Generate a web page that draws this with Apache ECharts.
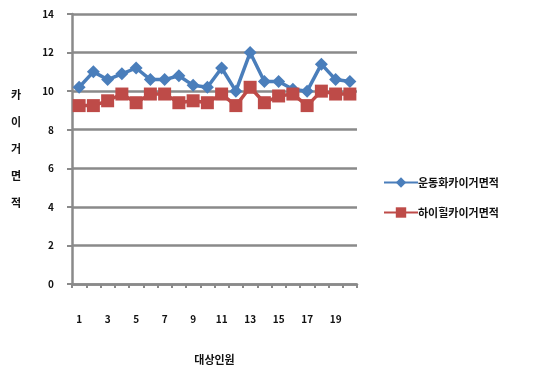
<!DOCTYPE html>
<html>
<head>
<meta charset="utf-8">
<script src="https://cdn.jsdelivr.net/npm/echarts@6/dist/echarts.min.js"></script>
<style>
  html, body { margin: 0; padding: 0; background: #fff; }
  #chart { width: 533px; height: 370px; }
</style>
</head>
<body>
<div id="chart"></div>
<script>
// Subjects 1..20
const categories = ['1','2','3','4','5','6','7','8','9','10','11','12','13','14','15','16','17','18','19','20'];
const sneakerArea = [10.2, 11.0, 10.6, 10.9, 11.2, 10.6, 10.6, 10.8, 10.3, 10.2, 11.2, 10.0, 12.0, 10.5, 10.5, 10.1, 10.0, 11.4, 10.6, 10.5];
const highHeelArea = [9.25, 9.25, 9.5, 9.85, 9.4, 9.85, 9.85, 9.4, 9.5, 9.4, 9.85, 9.25, 10.2, 9.4, 9.75, 9.85, 9.25, 10.0, 9.85, 9.85];
const seriesNames = ['운동화카이거면적', '하이힐카이거면적'];
const yTicks = { min: 0, max: 14, interval: 2 };

const FONT = '"Noto Sans CJK KR", "DejaVu Sans", sans-serif';
const AXIS_GRAY = '#8a8a8a';

const chart = echarts.init(document.getElementById('chart'), null, { renderer: 'canvas' });
chart.setOption({
  animation: false,
  backgroundColor: '#fff',
  textStyle: { fontFamily: FONT },
  grid: { left: 72, right: 176, top: 14, bottom: 83 },
  legend: {
    orient: 'vertical',
    left: 378,
    top: 172,
    itemWidth: 34,
    itemHeight: 13,
    itemGap: 19,
    textStyle: { fontFamily: FONT, fontSize: 11, fontWeight: 'bold', color: '#111', padding: [0, 0, 0, -5] },
    data: seriesNames
  },
  xAxis: {
    type: 'category',
    data: categories,
    boundaryGap: true,
    name: '대상인원',
    nameLocation: 'middle',
    nameGap: 70,
    nameTextStyle: { fontFamily: FONT, fontSize: 11, fontWeight: 'bold', color: '#111' },
    axisLine: { lineStyle: { color: AXIS_GRAY, width: 2.5 } },
    axisTick: { show: true, alignWithLabel: false, interval: 0, length: 4, lineStyle: { color: AXIS_GRAY, width: 2 } },
    axisLabel: { interval: 1, margin: 30, fontFamily: FONT, fontSize: 10, fontWeight: 'bold', color: '#111' },
    splitLine: { show: false }
  },
  yAxis: {
    type: 'value',
    min: yTicks.min,
    max: yTicks.max,
    interval: yTicks.interval,
    name: '카\n이\n거\n면\n적',
    nameLocation: 'middle',
    nameRotate: 0,
    nameGap: 51,
    nameTextStyle: { fontFamily: FONT, fontSize: 11, fontWeight: 'bold', color: '#111', lineHeight: 27 },
    axisLine: { show: true, lineStyle: { color: AXIS_GRAY, width: 2.5 } },
    axisTick: { show: true, length: 5, lineStyle: { color: AXIS_GRAY, width: 2 } },
    axisLabel: { margin: 18, fontFamily: FONT, fontSize: 10, fontWeight: 'bold', color: '#111' },
    splitLine: { show: true, lineStyle: { color: AXIS_GRAY, width: 2.5 } }
  },
  series: [
    {
      name: seriesNames[0],
      type: 'line',
      data: sneakerArea,
      symbol: 'diamond',
      symbolSize: 13,
      showAllSymbol: true,
      color: '#4a7ebb',
      lineStyle: { width: 3.5, color: '#4a7ebb' },
      itemStyle: { color: '#4a7ebb' },
      z: 3
    },
    {
      name: seriesNames[1],
      type: 'line',
      data: highHeelArea,
      symbol: 'rect',
      symbolSize: 13,
      showAllSymbol: true,
      color: '#be4b48',
      lineStyle: { width: 3.5, color: '#be4b48' },
      itemStyle: { color: '#be4b48' },
      z: 4
    }
  ]
});
</script>
</body>
</html>
